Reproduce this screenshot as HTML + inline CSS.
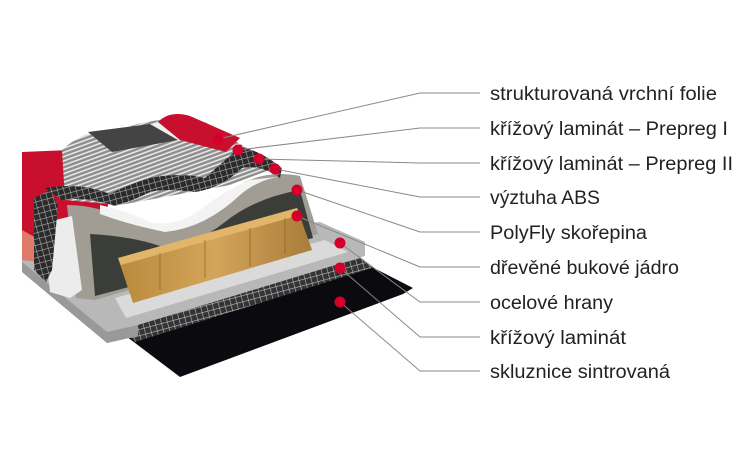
<!DOCTYPE html>
<html><head><meta charset="utf-8"><style>
html,body{margin:0;padding:0;background:#fff;width:755px;height:465px;overflow:hidden}
svg{display:block}
text{font-family:"Liberation Sans",sans-serif;font-size:19px;fill:#222}
</style></head><body>
<svg width="755" height="465" viewBox="0 0 755 465" xmlns="http://www.w3.org/2000/svg">
<defs>
<pattern id="grid" width="6" height="6" patternUnits="userSpaceOnUse" patternTransform="rotate(-15)">
<rect width="6" height="6" fill="#2a2a2a"/><path d="M0 0H6M0 0V6" stroke="#aaa" stroke-width="1.2"/>
</pattern>
<pattern id="grid2" width="6" height="6" patternUnits="userSpaceOnUse" patternTransform="rotate(-15)">
<rect width="6" height="6" fill="#333"/><path d="M0 0H6M0 0V6" stroke="#bbb" stroke-width="1.2"/>
</pattern>
<pattern id="stripe" width="4" height="4" patternUnits="userSpaceOnUse" patternTransform="rotate(-20)">
<rect width="4" height="4" fill="#8c8c8c"/><path d="M0 1H4" stroke="#eee" stroke-width="1.5"/>
</pattern>
<linearGradient id="wood" x1="0" y1="0" x2="1" y2="0">
<stop offset="0" stop-color="#b98a3c"/><stop offset=".5" stop-color="#d4a45a"/><stop offset="1" stop-color="#a97c3a"/>
</linearGradient>
</defs>
<!-- black base -->
<polygon points="118,330 370,266 413,288 403,294 180,377" fill="#0b0b0f"/>
<!-- grid laminate bottom -->
<polygon points="108,312 352,250 372,268 135,342" fill="url(#grid2)"/>
<!-- gray plate -->
<polygon points="22,250 320,222 365,242 365,256 138,325 138,336 107,343 22,272" fill="#b8b8b8"/>
<polygon points="22,262 107,332 138,325 138,336 107,343 22,272" fill="#999"/>
<polygon points="115,298 325,240 348,252 126,318" fill="#dadada"/>
<!-- red left -->
<polygon points="22,152 70,150 110,190 100,265 22,260" fill="#c8102e"/>
<polygon points="22,230 40,240 40,262 22,260" fill="#e07a6a"/>
<!-- top ridge striped -->
<path d="M62,150 Q85,128 120,130 Q150,118 175,120 L205,122 L250,150 L275,168 L230,185 L120,205 L65,200 Z" fill="url(#stripe)"/>
<polygon points="88,132 150,124 178,140 112,152" fill="#444"/>
<polygon points="150,124 175,120 196,138 178,140" fill="#f0f0f0"/>
<!-- red right top -->
<path d="M158,122 Q170,110 190,116 L240,138 L226,152 L180,140 Z" fill="#c8102e"/>
<!-- speckled shell -->
<path d="M67,205 Q100,205 130,222 Q160,232 190,218 Q220,200 245,182 Q270,170 300,176 L318,234 L95,300 L76,298 Z" fill="#a19d94"/>
<!-- dark shell -->
<path d="M90,234 Q130,236 160,246 Q195,246 225,222 Q255,198 300,190 L313,238 L95,296 Z" fill="#3b3d39"/>
<!-- wood -->
<polygon points="118,258 297,208 312,250 133,303" fill="url(#wood)"/>
<polygon points="118,258 297,208 300,215 121,265" fill="#e2b66a"/>
<path d="M160,253V290M205,240V278M250,228V266M285,218V254" stroke="#8a6228" stroke-width="1.2" opacity=".6"/>
<!-- white ABS -->
<polygon points="43,223 72,216 82,290 70,298 50,292" fill="#ececec"/>
<path d="M100,205 Q130,212 150,222 Q175,228 200,210 Q225,190 250,180 L285,176 Q260,178 240,195 Q205,228 165,232 Q130,225 100,214 Z" fill="#f3f3f3"/>
<!-- grid laminate top (wavy) -->
<path d="M45,188 Q80,182 110,194 Q130,184 150,178 Q180,172 205,178 Q225,160 240,147 Q260,150 282,168 L280,178 Q260,164 242,168 Q222,188 195,192 Q165,188 150,192 Q130,202 115,206 Q85,196 62,200 Z" fill="url(#grid)"/>
<polygon points="34,198 50,190 58,205 52,270 46,282 34,270" fill="url(#grid)"/>
<!-- leader lines -->
<g stroke="#888" stroke-width="1" fill="none">
<polyline points="480,93 420,93 218,139"/>
<polyline points="480,128 420,128 238,150"/>
<polyline points="480,163 420,163 259,159"/>
<polyline points="480,197 420,197 275,169"/>
<polyline points="480,232 420,232 297,190"/>
<polyline points="480,267 420,267 297,216"/>
<polyline points="480,302 420,302 340,243"/>
<polyline points="480,337 420,337 340,268"/>
<polyline points="480,371 420,371 340,302"/>
</g>
<g fill="#d4002a">
<circle cx="218" cy="139" r="5.5"/><circle cx="238" cy="150" r="5.5"/><circle cx="259" cy="159" r="5.5"/>
<circle cx="275" cy="169" r="5.5"/><circle cx="297" cy="190" r="5.5"/><circle cx="297" cy="216" r="5.5"/>
<circle cx="340" cy="243" r="5.5"/><circle cx="340" cy="268" r="5.5"/><circle cx="340" cy="302" r="5.5"/>
</g>
<g>
<text x="490" y="100" textLength="227" lengthAdjust="spacingAndGlyphs">strukturovaná vrchní folie</text>
<text x="490" y="135" textLength="238" lengthAdjust="spacingAndGlyphs">křížový laminát – Prepreg I</text>
<text x="490" y="170" textLength="243" lengthAdjust="spacingAndGlyphs">křížový laminát – Prepreg II</text>
<text x="490" y="204" textLength="110" lengthAdjust="spacingAndGlyphs">výztuha ABS</text>
<text x="490" y="239" textLength="157" lengthAdjust="spacingAndGlyphs">PolyFly skořepina</text>
<text x="490" y="274" textLength="189" lengthAdjust="spacingAndGlyphs">dřevěné bukové jádro</text>
<text x="490" y="309" textLength="123" lengthAdjust="spacingAndGlyphs">ocelové hrany</text>
<text x="490" y="344" textLength="136" lengthAdjust="spacingAndGlyphs">křížový laminát</text>
<text x="490" y="378" textLength="180" lengthAdjust="spacingAndGlyphs">skluznice sintrovaná</text>
</g>
</svg>
</body></html>
